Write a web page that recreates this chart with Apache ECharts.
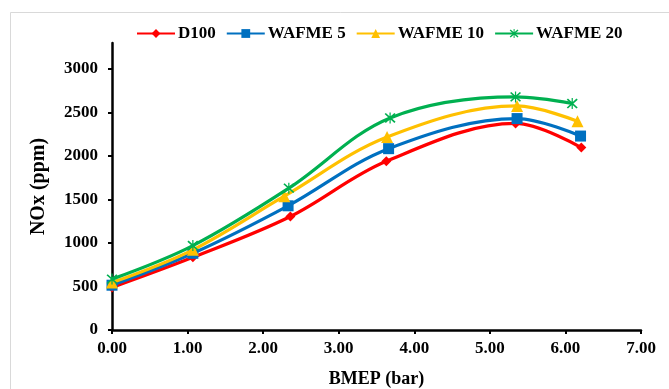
<!DOCTYPE html>
<html>
<head>
<meta charset="utf-8">
<script src="https://cdn.jsdelivr.net/npm/echarts@6/dist/echarts.min.js"></script>
<style>
  html, body { margin: 0; padding: 0; background: #fff; }
  #chart { width: 669px; height: 389px; }
</style>
</head>
<body>
<div id="chart"></div>
<script>
// BMEP (bar) for each series
const seriesNames = ['D100', 'WAFME 5', 'WAFME 10', 'WAFME 20'];
const bmepD100 = [0, 1.07, 2.36, 3.63, 5.34, 6.21];
const bmepW5 = [0, 1.07, 2.33, 3.66, 5.36, 6.20];
const bmepW10 = [0, 1.07, 2.28, 3.64, 5.36, 6.16];
const bmepW20 = [0, 1.07, 2.34, 3.68, 5.34, 6.09];
// NOx (ppm)
const noxD100 = [490, 836, 1305, 1940, 2375, 2097];
const noxW5 = [515, 882, 1428, 2085, 2431, 2230];
const noxW10 = [545, 922, 1539, 2219, 2576, 2400];
const noxW20 = [585, 971, 1631, 2438, 2680, 2604];
const yTicks = [0, 500, 1000, 1500, 2000, 2500, 3000];

const colors = ['#ff0000', '#0070c0', '#ffc000', '#00b050'];
const asterisk = 'path://M9,0L11,0L11,20L9,20Z M1,3L3,1L19,17L17,19Z M17,1L19,3L3,19L1,17Z';
const symbols = ['diamond', 'rect', 'triangle', asterisk];
const symbolSizes = [10, 11, 12, 11];

const zip = (xs, ys) => xs.map((x, i) => [x, ys[i]]);
const allData = [
    zip(bmepD100, noxD100),
    zip(bmepW5, noxW5),
    zip(bmepW10, noxW10),
    zip(bmepW20, noxW20)
];

const font = '"Liberation Serif", "Times New Roman", serif';
const chart = echarts.init(document.getElementById('chart'), null, {renderer: 'canvas'});

const option = {
    animation: false,
    backgroundColor: '#fff',
    textStyle: {fontFamily: font},
    graphic: [{
        type: 'rect',
        shape: {x: 10.5, y: 12.5, width: 670, height: 390},
        style: {fill: 'none', stroke: '#d9d9d9', lineWidth: 1},
        silent: true
    }],
    legend: {
        top: 20,
        left: 131,
        itemWidth: 38,
        itemHeight: 11,
        itemGap: 10,
        textStyle: {fontFamily: font, fontWeight: 'bold', fontSize: 17, color: '#000', padding: [0, 0, 0, -2]},
        data: seriesNames
    },
    grid: {left: 112, right: 28, top: 43, bottom: 59, outerBoundsMode: 'none', containLabel: false},
    xAxis: {
        type: 'value',
        min: 0,
        max: 7,
        interval: 1,
        name: 'BMEP (bar)',
        nameLocation: 'middle',
        nameGap: 40,
        nameTextStyle: {fontFamily: font, fontWeight: 'bold', fontSize: 18, color: '#000'},
        axisLine: {lineStyle: {color: '#000', width: 2.5}},
        axisTick: {show: true, length: 4, lineStyle: {color: '#000', width: 2}},
        axisLabel: {
            fontFamily: font, fontWeight: 'bold', fontSize: 17, color: '#000', margin: 10,
            formatter: v => v.toFixed(2)
        },
        splitLine: {show: false}
    },
    yAxis: {
        type: 'value',
        min: 0,
        max: 3300,
        name: 'NOx (ppm)',
        nameLocation: 'middle',
        nameGap: 63,
        nameTextStyle: {fontFamily: font, fontWeight: 'bold', fontSize: 20, color: '#000'},
        axisLine: {show: true, lineStyle: {color: '#000', width: 2.5}},
        axisTick: {show: true, length: 4, customValues: yTicks, lineStyle: {color: '#000', width: 2}},
        axisLabel: {
            fontFamily: font, fontWeight: 'bold', fontSize: 17, color: '#000', margin: 14,
            customValues: yTicks,
            formatter: v => String(v)
        },
        splitLine: {show: false}
    },
    series: seriesNames.map((name, i) => ({
        name: name,
        type: 'line',
        smooth: 0.35,
        data: allData[i],
        symbol: symbols[i],
        symbolSize: symbolSizes[i],
        showAllSymbol: true,
        lineStyle: {color: colors[i], width: 3.2},
        itemStyle: {color: colors[i]},
        z: 2 + i
    }))
};

chart.setOption(option);
</script>
</body>
</html>
